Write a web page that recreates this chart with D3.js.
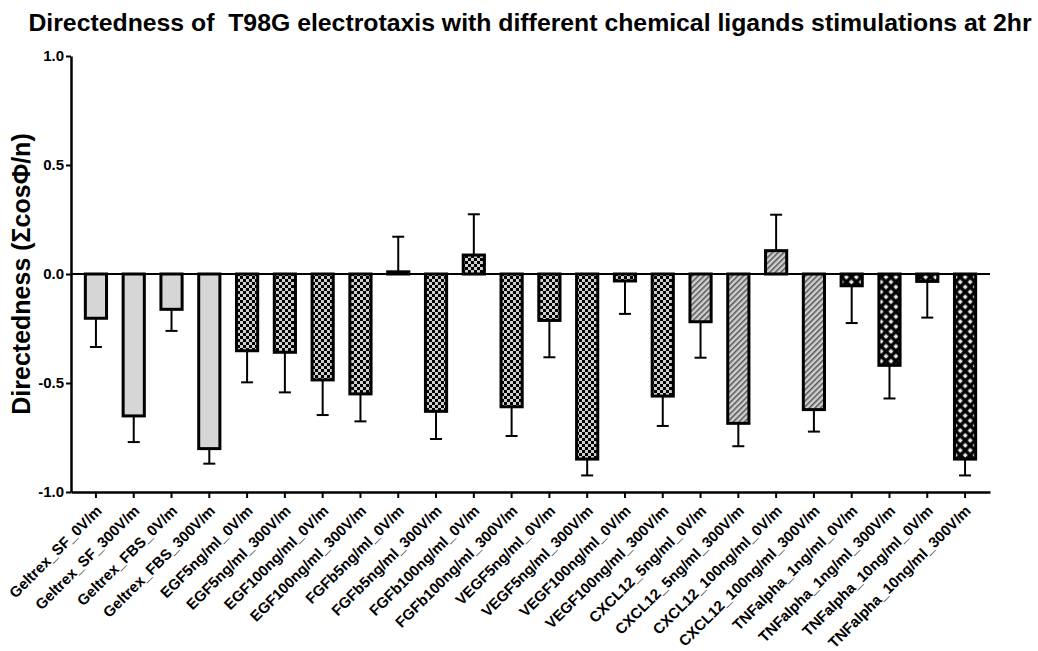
<!DOCTYPE html>
<html><head><meta charset="utf-8">
<script src="https://cdn.jsdelivr.net/npm/d3@7"></script>
<style>body{margin:0;background:#fff;} svg{display:block;font-family:"Liberation Sans",Arial,sans-serif;}</style>
</head><body><svg id="c" width="1038" height="651"></svg>
<script>
const categories = ["Geltrex_SF_0V/m","Geltrex_SF_300V/m","Geltrex_FBS_0V/m","Geltrex_FBS_300V/m",
"EGF5ng/ml_0V/m","EGF5ng/ml_300V/m","EGF100ng/ml_0V/m","EGF100ng/ml_300V/m",
"FGFb5ng/ml_0V/m","FGFb5ng/ml_300V/m","FGFb100ng/ml_0V/m","FGFb100ng/ml_300V/m",
"VEGF5ng/ml_0V/m","VEGF5ng/ml_300V/m","VEGF100ng/ml_0V/m","VEGF100ng/ml_300V/m",
"CXCL12_5ng/ml_0V/m","CXCL12_5ng/ml_300V/m","CXCL12_100ng/ml_0V/m","CXCL12_100ng/ml_300V/m",
"TNFalpha_1ng/ml_0V/m","TNFalpha_1ng/ml_300V/m","TNFalpha_10ng/ml_0V/m","TNFalpha_10ng/ml_300V/m"];
const means = [-0.203,-0.651,-0.162,-0.801,-0.352,-0.359,-0.486,-0.55,
0.01,-0.63,0.087,-0.609,-0.213,-0.849,-0.032,-0.56,
-0.219,-0.685,0.107,-0.622,-0.054,-0.419,-0.034,-0.849];
const errors = [0.132,0.12,0.099,0.069,0.145,0.184,0.161,0.126,
0.161,0.127,0.187,0.134,0.169,0.075,0.151,0.137,
0.165,0.105,0.165,0.101,0.171,0.152,0.166,0.075];
const groups = ["plain","plain","plain","plain",
"check","check","check","check","check","check","check","check","check","check","check","check",
"hatch","hatch","hatch","hatch","diamond","diamond","diamond","diamond"];
const yTicks = [-1.0,-0.5,0.0,0.5,1.0];

const svg = d3.select("#c");
const defs = svg.append("defs");
const pc = defs.append("pattern").attr("id","check").attr("patternUnits","userSpaceOnUse").attr("width",6).attr("height",6);
pc.append("rect").attr("width",6).attr("height",6).attr("fill","#cfcfcf");
pc.append("rect").attr("width",3).attr("height",3).attr("fill","#000");
pc.append("rect").attr("x",3).attr("y",3).attr("width",3).attr("height",3).attr("fill","#000");
const ph = defs.append("pattern").attr("id","hatch").attr("patternUnits","userSpaceOnUse").attr("width",4).attr("height",4).attr("patternTransform","rotate(45)");
ph.append("rect").attr("width",4).attr("height",4).attr("fill","#cfcfcf");
ph.append("rect").attr("width",1.5).attr("height",4).attr("fill","#555");
const pd = defs.append("pattern").attr("id","diamond").attr("patternUnits","userSpaceOnUse").attr("width",7).attr("height",7).attr("patternTransform","rotate(45)");
pd.append("rect").attr("width",7).attr("height",7).attr("fill","#000");
pd.append("rect").attr("x",1.6).attr("y",1.6).attr("width",3.6).attr("height",3.6).attr("fill","#e8e8e8");

const fillFor = g => g==="plain" ? "#d6d6d6" : `url(#${g})`;

const x = d3.scaleBand().domain(categories).range([71,990]).paddingInner(0.36).paddingOuter(0.34);
const y = d3.scaleLinear().domain([-1,1]).range([492,56]);

svg.append("text").attr("x",530).attr("y",31).attr("text-anchor","middle")
  .attr("font-weight","bold").attr("font-size",24.8).attr("xml:space","preserve")
  .text("Directedness of  T98G electrotaxis with different chemical ligands stimulations at 2hr");
svg.append("text").attr("transform","translate(30,274) rotate(-90)").attr("text-anchor","middle")
  .attr("font-weight","bold").attr("font-size",25).text("Directedness (\u03A3cos\u03A6/n)");

const data = categories.map((c,i)=>({c,m:means[i],e:errors[i],g:groups[i]}));
const bw = x.bandwidth();
const eb = svg.append("g").attr("stroke","#000").attr("stroke-width",2);
data.forEach(d=>{
  const cx = x(d.c)+bw/2;
  const end = d.m + (d.m>=0 ? d.e : -d.e);
  eb.append("line").attr("x1",cx).attr("x2",cx).attr("y1",y(d.m)).attr("y2",y(end));
  eb.append("line").attr("x1",cx-6).attr("x2",cx+6).attr("y1",y(end)).attr("y2",y(end));
});
svg.append("g").selectAll("rect").data(data).join("rect")
  .attr("x",d=>x(d.c)+1.5).attr("width",bw-3)
  .attr("y",d=>Math.min(y(d.m),y(0))).attr("height",d=>Math.max(Math.abs(y(d.m)-y(0)),1))
  .attr("fill",d=>fillFor(d.g)).attr("stroke","#000").attr("stroke-width",3);

svg.append("line").attr("x1",71).attr("x2",990).attr("y1",y(0)).attr("y2",y(0)).attr("stroke","#000").attr("stroke-width",2);

const ya = svg.append("g").attr("transform","translate(71,0)")
  .call(d3.axisLeft(y).tickValues(yTicks).tickFormat(d=>d.toFixed(1)).tickSize(5).tickSizeOuter(0));
ya.attr("font-size",15).attr("font-weight","bold").attr("font-family","Liberation Sans, Arial, sans-serif");
ya.select(".domain").attr("stroke-width",2.5);
ya.selectAll(".tick line").attr("stroke-width",2);
ya.selectAll("text").attr("x",-7);

const xa = svg.append("g").attr("transform","translate(0,492)")
  .call(d3.axisBottom(x).tickSize(6).tickSizeOuter(0));
xa.attr("font-size",15).attr("font-weight","bold").attr("font-family","Liberation Sans, Arial, sans-serif");
xa.select(".domain").attr("stroke-width",2.5);
xa.selectAll(".tick line").attr("stroke-width",2);
xa.selectAll("text").attr("text-anchor","end").attr("dy","0.35em").attr("y",0)
  .attr("transform","translate(3,16) rotate(-45)");
</script></body></html>
